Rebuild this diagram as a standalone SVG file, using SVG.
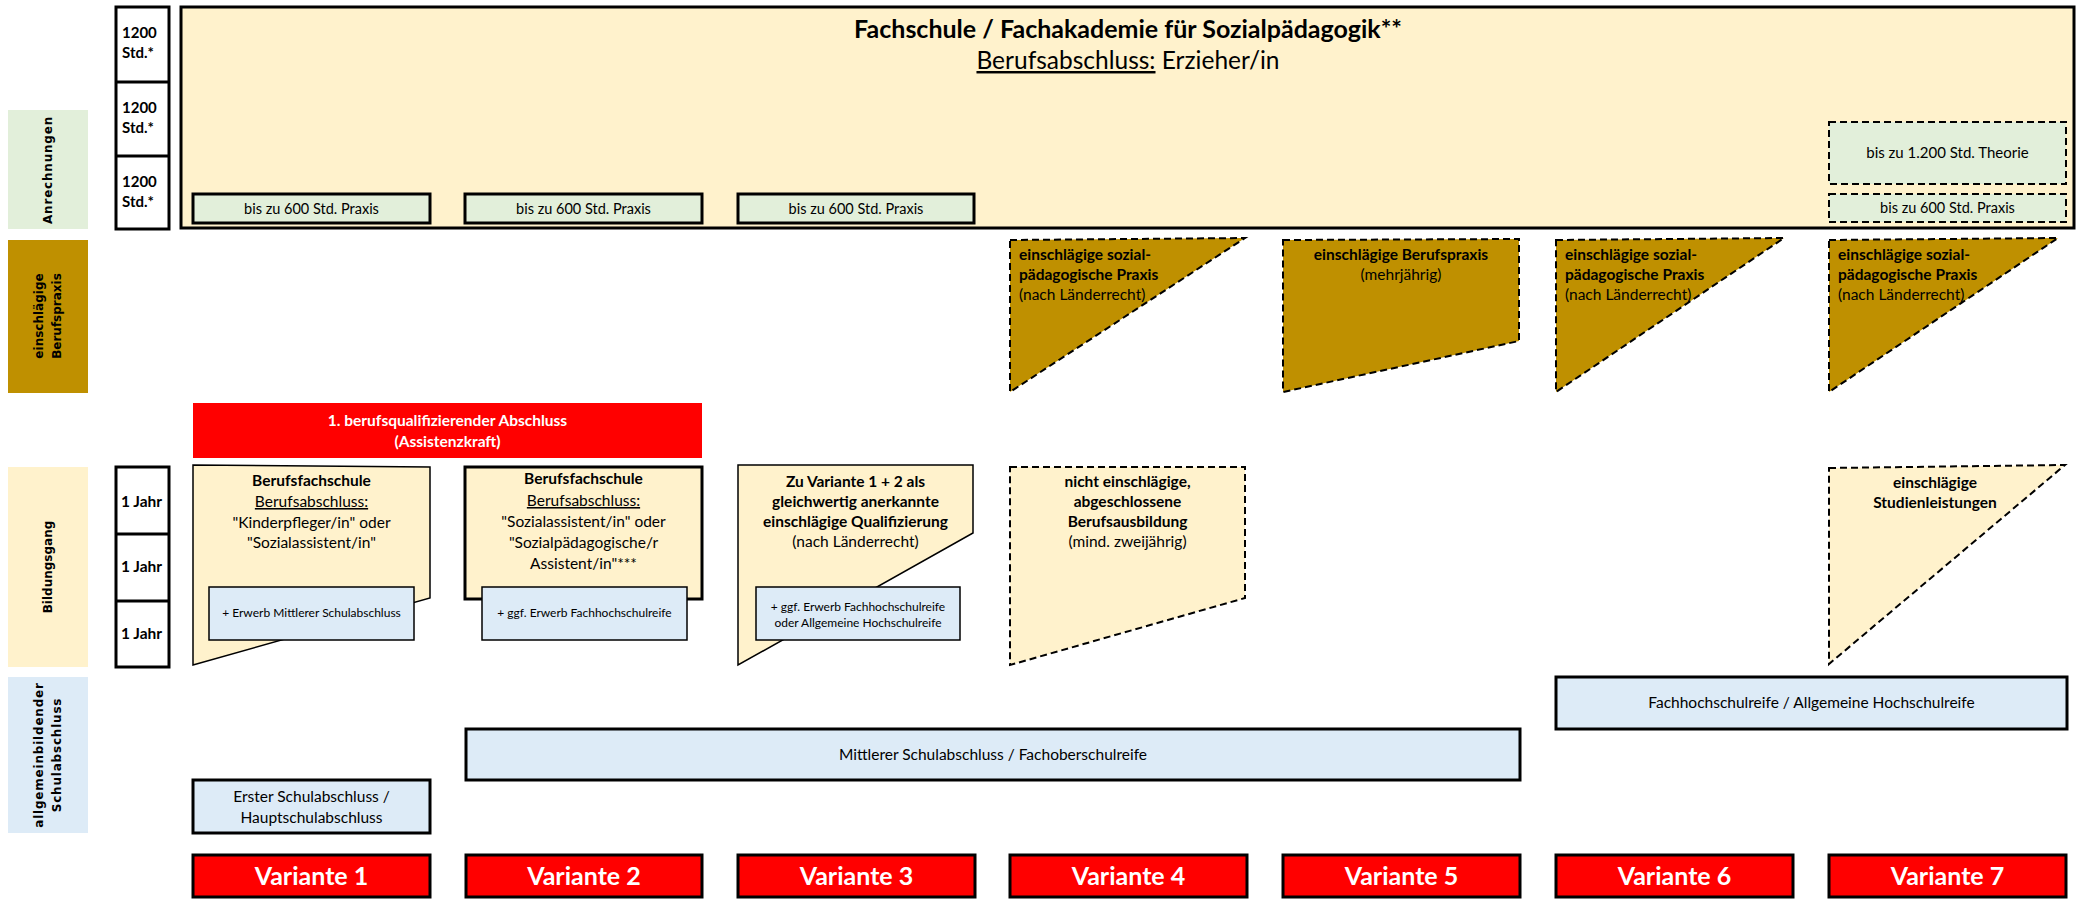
<svg xmlns="http://www.w3.org/2000/svg" width="2082" height="899" viewBox="0 0 2082 899">
<defs><style>
text{font-family:Lato,"Liberation Sans",sans-serif;fill:#000}
.b{font-weight:bold}
.c{text-anchor:middle}
.lab{font-family:"DejaVu Sans",sans-serif;font-weight:bold;font-size:12px;text-anchor:middle;dominant-baseline:central}
.cream{fill:#FFF2CC}
.green{fill:#E2EFDA}
.blue{fill:#DDEBF7}
.brown{fill:#BF9000}
.red{fill:#FF0000}
.thick{stroke:#000;stroke-width:3}
.thin{stroke:#000;stroke-width:1.5}
.dash{stroke:#000;stroke-width:2;stroke-dasharray:7 4}
.w{fill:#fff}
.u{text-decoration:underline}
.s15{font-size:15px}
.s14{font-size:14.5px}
.sb{font-size:15.5px}
.s12{font-size:12px}
.var{font-size:25px;font-weight:bold;fill:#fff;text-anchor:middle}
</style></defs>
<rect width="2082" height="899" fill="#fff"/>

<!-- left row labels -->
<g id="label-anrechnungen"><rect x="8" y="110" width="80" height="119" class="green"/><text class="lab" transform="translate(48,170) rotate(-90)" letter-spacing="0.8">Anrechnungen</text></g>
<g id="label-berufspraxis"><rect x="8" y="240" width="80" height="153" class="brown"/><text class="lab" transform="translate(48,316) rotate(-90)"><tspan x="0" y="-9">einschlägige</tspan><tspan x="0" y="9">Berufspraxis</tspan></text></g>
<g id="label-bildungsgang"><rect x="8" y="467" width="80" height="200" class="cream"/><text class="lab" transform="translate(48,567) rotate(-90)">Bildungsgang</text></g>
<g id="label-schulabschluss"><rect x="8" y="677" width="80" height="156" class="blue"/><text class="lab" transform="translate(48,755) rotate(-90)" letter-spacing="0.8"><tspan x="0" y="-9">allgemeinbildender</tspan><tspan x="0" y="9">Schulabschluss</tspan></text></g>

<!-- hours column -->
<g id="hours-column">
<rect x="116" y="7" width="53" height="222" fill="#fff" class="thick"/>
<line x1="116" y1="82" x2="169" y2="82" class="thick"/>
<line x1="116" y1="156" x2="169" y2="156" class="thick"/>
<text class="b s15" x="122" y="38">1200</text><text class="b s15" x="122" y="58">Std.*</text>
<text class="b s15" x="122" y="113">1200</text><text class="b s15" x="122" y="133">Std.*</text>
<text class="b s15" x="122" y="187">1200</text><text class="b s15" x="122" y="207">Std.*</text>
</g>

<!-- main Fachschule box -->
<g id="fachschule">
<rect x="181" y="7" width="1893" height="221" class="cream thick"/>
<text class="b c" x="1128" y="38" font-size="25">Fachschule / Fachakademie für Sozialpädagogik**</text>
<text class="c" x="1128" y="69" font-size="24.5"><tspan class="u">Berufsabschluss:</tspan> Erzieher/in</text>
</g>
<g id="praxis-1"><rect x="193" y="194" width="237" height="29" class="green thick"/><text class="c s14" x="311.5" y="213.5">bis zu 600 Std. Praxis</text></g>
<g id="praxis-2"><rect x="465" y="194" width="237" height="29" class="green thick"/><text class="c s14" x="583.5" y="213.5">bis zu 600 Std. Praxis</text></g>
<g id="praxis-3"><rect x="738" y="194" width="236" height="29" class="green thick"/><text class="c s14" x="856" y="213.5">bis zu 600 Std. Praxis</text></g>
<g id="theorie-7"><rect x="1829" y="122" width="237" height="62" class="green dash"/><text class="c s15" x="1947.5" y="158">bis zu 1.200 Std. Theorie</text></g>
<g id="praxis-7"><rect x="1829" y="194" width="237" height="28" class="green dash"/><text class="c s14" x="1947.5" y="213">bis zu 600 Std. Praxis</text></g>

<!-- Berufspraxis row -->
<g id="praxis-v4"><polygon points="1010,240 1245,238 1010,392" class="brown dash"/>
<text class="sb" x="1019" y="260"><tspan class="b">einschlägige sozial-</tspan><tspan class="b" x="1019" y="280">pädagogische Praxis</tspan><tspan x="1019" y="300">(nach Länderrecht)</tspan></text></g>
<g id="praxis-v5"><polygon points="1283,240 1519,239 1519,341 1283,392" class="brown dash"/>
<text class="sb c" x="1401" y="260"><tspan class="b">einschlägige Berufspraxis</tspan><tspan x="1401" y="280">(mehrjährig)</tspan></text></g>
<g id="praxis-v6"><polygon points="1556,240 1784,238 1556,392" class="brown dash"/>
<text class="sb" x="1565" y="260"><tspan class="b">einschlägige sozial-</tspan><tspan class="b" x="1565" y="280">pädagogische Praxis</tspan><tspan x="1565" y="300">(nach Länderrecht)</tspan></text></g>
<g id="praxis-v7"><polygon points="1829,240 2058,238 1829,392" class="brown dash"/>
<text class="sb" x="1838" y="260"><tspan class="b">einschlägige sozial-</tspan><tspan class="b" x="1838" y="280">pädagogische Praxis</tspan><tspan x="1838" y="300">(nach Länderrecht)</tspan></text></g>

<!-- first qualification bar -->
<g id="abschluss-bar"><rect x="193" y="403" width="509" height="55" class="red"/>
<text class="b c w sb" x="447.5" y="425.5">1. berufsqualifizierender Abschluss</text><text class="b c w sb" x="447.5" y="446.5">(Assistenzkraft)</text></g>

<!-- year column -->
<g id="years-column">
<rect x="116" y="467" width="53" height="200" fill="#fff" class="thick"/>
<line x1="116" y1="534" x2="169" y2="534" class="thick"/>
<line x1="116" y1="601" x2="169" y2="601" class="thick"/>
<text class="b sb" x="121" y="507">1 Jahr</text>
<text class="b sb" x="121" y="572">1 Jahr</text>
<text class="b sb" x="121" y="639">1 Jahr</text>
</g>

<!-- Bildungsgang row -->
<g id="bildung-v1"><polygon points="193,465 430,467 430,598 193,665" class="cream thin"/>
<text class="c sb" x="311.5" y="486"><tspan class="b">Berufsfachschule</tspan><tspan class="u" x="311.5" y="507">Berufsabschluss:</tspan><tspan x="311.5" y="528">"Kinderpfleger/in" oder</tspan><tspan x="311.5" y="548">"Sozialassistent/in"</tspan></text>
<rect x="209" y="587" width="205" height="53" class="blue thin"/><text class="c s12" x="311.5" y="617">+ Erwerb Mittlerer Schulabschluss</text></g>

<g id="bildung-v2"><rect x="465" y="467" width="237" height="132" class="cream thick"/>
<text class="c sb" x="583.5" y="484"><tspan class="b">Berufsfachschule</tspan><tspan class="u" x="583.5" y="506">Berufsabschluss:</tspan><tspan x="583.5" y="527">"Sozialassistent/in" oder</tspan><tspan x="583.5" y="548">"Sozialpädagogische/r</tspan><tspan x="583.5" y="569">Assistent/in"***</tspan></text>
<rect x="482" y="587" width="205" height="53" class="blue thin"/><text class="c s12" x="584.5" y="617">+ ggf. Erwerb Fachhochschulreife</text></g>

<g id="bildung-v3"><polygon points="738,465 973,465 973,533 738,665" class="cream thin"/>
<text class="c sb" x="855.5" y="487"><tspan class="b">Zu Variante 1 + 2 als</tspan><tspan class="b" x="855.5" y="507">gleichwertig anerkannte</tspan><tspan class="b" x="855.5" y="527">einschlägige Qualifizierung</tspan><tspan x="855.5" y="547">(nach Länderrecht)</tspan></text>
<rect x="756" y="587" width="204" height="53" class="blue thin"/><text class="c s12" x="858" y="611">+ ggf. Erwerb Fachhochschulreife</text><text class="c s12" x="858" y="627">oder Allgemeine Hochschulreife</text></g>

<g id="bildung-v4"><polygon points="1010,467 1245,467 1245,598 1010,665" class="cream dash"/>
<text class="c sb" x="1127.5" y="487"><tspan class="b">nicht einschlägige,</tspan><tspan class="b" x="1127.5" y="507">abgeschlossene</tspan><tspan class="b" x="1127.5" y="527">Berufsausbildung</tspan><tspan x="1127.5" y="547">(mind. zweijährig)</tspan></text></g>

<g id="bildung-v7"><polygon points="1829,468 2065,465 1829,664" class="cream dash"/>
<text class="c sb b" x="1935" y="488">einschlägige<tspan x="1935" y="508">Studienleistungen</tspan></text></g>

<!-- Schulabschluss row -->
<g id="schule-hochschulreife"><rect x="1556" y="677" width="511" height="52" class="blue thick"/><text class="c sb" x="1811.5" y="708">Fachhochschulreife / Allgemeine Hochschulreife</text></g>
<g id="schule-mittlerer"><rect x="466" y="729" width="1054" height="51" class="blue thick"/><text class="c sb" x="993" y="760">Mittlerer Schulabschluss / Fachoberschulreife</text></g>
<g id="schule-erster"><rect x="193" y="780" width="237" height="53" class="blue thick"/><text class="c sb" x="311.5" y="802">Erster Schulabschluss /</text><text class="c sb" x="311.5" y="823">Hauptschulabschluss</text></g>

<!-- Varianten -->
<g id="variante-1"><rect x="193" y="855" width="237" height="42" class="red thick"/><text class="var" x="311.5" y="885">Variante 1</text></g>
<g id="variante-2"><rect x="466" y="855" width="236" height="42" class="red thick"/><text class="var" x="584" y="885">Variante 2</text></g>
<g id="variante-3"><rect x="738" y="855" width="237" height="42" class="red thick"/><text class="var" x="856.5" y="885">Variante 3</text></g>
<g id="variante-4"><rect x="1010" y="855" width="237" height="42" class="red thick"/><text class="var" x="1128.5" y="885">Variante 4</text></g>
<g id="variante-5"><rect x="1283" y="855" width="237" height="42" class="red thick"/><text class="var" x="1401.5" y="885">Variante 5</text></g>
<g id="variante-6"><rect x="1556" y="855" width="237" height="42" class="red thick"/><text class="var" x="1674.5" y="885">Variante 6</text></g>
<g id="variante-7"><rect x="1829" y="855" width="237" height="42" class="red thick"/><text class="var" x="1947.5" y="885">Variante 7</text></g>

<g id="connectors"></g>
</svg>
